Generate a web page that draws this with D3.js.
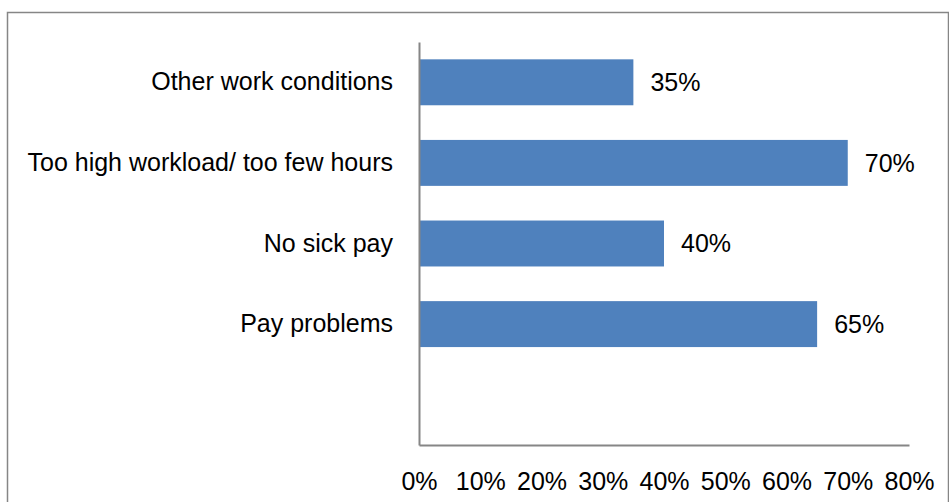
<!DOCTYPE html>
<html>
<head>
<meta charset="utf-8">
<script src="https://cdn.jsdelivr.net/npm/d3@7"></script>
<style>
  html, body { margin: 0; padding: 0; background: #fff; }
  svg { display: block; }
  text { font-family: "Liberation Sans", Arial, sans-serif; fill: #000; }
</style>
</head>
<body>
<svg id="chart" width="949" height="502"></svg>
<script>
// Data (top to bottom; last slot is empty in the original)
const categories = ["Other work conditions", "Too high workload/ too few hours", "No sick pay", "Pay problems", ""];
const values = [0.35, 0.70, 0.40, 0.65, null];
const tickValues = [0, 0.1, 0.2, 0.3, 0.4, 0.5, 0.6, 0.7, 0.8];

const svg = d3.select("#chart");
const W = 949, H = 502;
const fontSize = 25;

// chart border
svg.append("rect")
  .attr("x", 7.5).attr("y", 12.5)
  .attr("width", 941).attr("height", 520)
  .attr("fill", "none").attr("stroke", "#868686").attr("stroke-width", 1.5);

const x = d3.scaleLinear().domain([0, 0.8]).range([419, 909]);
const y = d3.scaleBand().domain(categories.map((c, i) => i))
  .range([42, 445]).paddingInner(0.43).paddingOuter(0.215);

const data = categories.map((c, i) => ({ i, c, v: values[i] }));

// bars
svg.append("g").selectAll("rect")
  .data(data.filter(d => d.v != null))
  .join("rect")
  .attr("x", x(0))
  .attr("y", d => y(d.i))
  .attr("width", d => x(d.v) - x(0))
  .attr("height", y.bandwidth())
  .attr("fill", "#4F81BD");

// value labels
svg.append("g").selectAll("text")
  .data(data.filter(d => d.v != null))
  .join("text")
  .attr("x", d => x(d.v) + 17)
  .attr("y", d => y(d.i) + y.bandwidth() / 2)
  .attr("dy", "0.35em")
  .attr("font-size", fontSize)
  .text(d => d3.format(".0%")(d.v));

// category axis (left)
const yAxis = d3.axisLeft(y).tickSize(0).tickPadding(26).tickFormat(i => categories[i]);
const gy = svg.append("g").attr("transform", `translate(${x(0)},0)`).call(yAxis);
gy.select(".domain").attr("stroke", "#868686").attr("stroke-width", 2);
gy.selectAll("text").attr("font-size", fontSize).attr("font-family", "Liberation Sans, Arial, sans-serif").attr("fill", "#000");

// value axis (bottom)
const xAxis = d3.axisBottom(x).tickValues(tickValues).tickSize(0).tickPadding(27)
  .tickFormat(d3.format(".0%"));
const gx = svg.append("g").attr("transform", `translate(0,${y.range()[1]})`).call(xAxis);
gx.select(".domain").attr("stroke", "#868686").attr("stroke-width", 2);
gx.selectAll("text").attr("font-size", fontSize).attr("font-family", "Liberation Sans, Arial, sans-serif").attr("fill", "#000");
</script>
</body>
</html>
